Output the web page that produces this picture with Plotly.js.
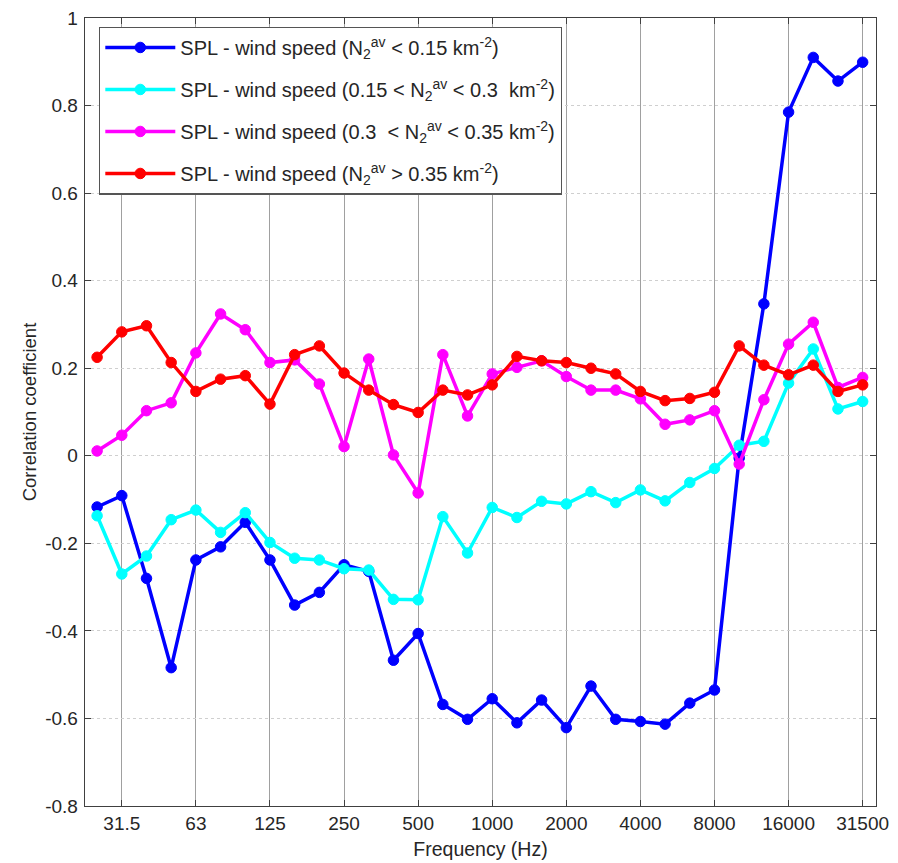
<!DOCTYPE html>
<html>
<head>
<meta charset="utf-8">
<script src="https://cdn.plot.ly/plotly-3.0.1.min.js"></script>
<style>html,body{margin:0;padding:0;background:#fff;}#chart{width:898px;height:863px;}</style>
</head>
<body>
<div id="chart"></div>
<script>
// Third-octave band centre frequencies (Hz)
var bands = ['25','31.5','40','50','63','80','100','125','160','200','250','315','400','500','630','800',
             '1000','1250','1600','2000','2500','3150','4000','5000','6300','8000','10000','12500','16000','20000','25000','31500'];
var tickLabels = ['31.5','63','125','250','500','1000','2000','4000','8000','16000','31500'];
var yTickVals = [-0.8,-0.6,-0.4,-0.2,0,0.2,0.4,0.6,0.8,1];
var yTickLabels = ['-0.8','-0.6','-0.4','-0.2','0','0.2','0.4','0.6','0.8','1'];

var seriesNames = [
  'SPL - wind speed (N<sub>2</sub><sup>av</sup> &lt; 0.15 km<sup>-2</sup>)',
  'SPL - wind speed (0.15 &lt; N<sub>2</sub><sup>av</sup> &lt; 0.3  km<sup>-2</sup>)',
  'SPL - wind speed (0.3  &lt; N<sub>2</sub><sup>av</sup> &lt; 0.35 km<sup>-2</sup>)',
  'SPL - wind speed (N<sub>2</sub><sup>av</sup> &gt; 0.35 km<sup>-2</sup>)'
];

var blue = [-0.117,-0.091,-0.280,-0.484,-0.238,-0.208,-0.152,-0.238,-0.341,-0.312,-0.249,-0.264,
            -0.467,-0.406,-0.568,-0.602,-0.555,-0.610,-0.558,-0.621,-0.526,-0.602,-0.607,-0.613,
            -0.565,-0.535,-0.005,0.347,0.785,0.910,0.856,0.899];
var cyan = [-0.137,-0.270,-0.229,-0.146,-0.124,-0.175,-0.130,-0.198,-0.234,-0.238,-0.258,-0.261,
            -0.328,-0.329,-0.139,-0.222,-0.118,-0.141,-0.104,-0.110,-0.082,-0.107,-0.078,-0.103,
            -0.061,-0.029,0.024,0.033,0.166,0.244,0.107,0.124];
var magenta = [0.011,0.047,0.103,0.121,0.235,0.324,0.288,0.213,0.219,0.164,0.021,0.221,
               0.002,-0.085,0.231,0.091,0.187,0.202,0.217,0.181,0.150,0.150,0.130,0.072,
               0.082,0.103,-0.019,0.128,0.255,0.305,0.156,0.179];
var red = [0.225,0.283,0.297,0.213,0.147,0.175,0.183,0.118,0.231,0.251,0.189,0.150,
           0.117,0.099,0.150,0.139,0.162,0.227,0.217,0.213,0.200,0.187,0.147,0.126,
           0.131,0.145,0.251,0.207,0.185,0.207,0.147,0.162];

var colors = ['#0000ff','#00ffff','#ff00ff','#ff0000'];
var allSeries = [blue, cyan, magenta, red];

var xIdx = bands.map(function(_, i){ return i; });
var tickVals = tickLabels.map(function(l){ return bands.indexOf(l); });

var traces = allSeries.map(function(vals, k){
  return {
    x: xIdx, y: vals, name: seriesNames[k], type: 'scatter', mode: 'lines+markers',
    legendgroup: 'g' + k,
    line: {color: colors[k], width: 3.5},
    marker: {color: colors[k], size: 10.5, symbol: 'circle', line: {color: colors[k], width: 1}}
  };
});

var font = 'Arial, "Liberation Sans", sans-serif';
var layout = {
  width: 898, height: 863,
  margin: {l: 85, r: 22, t: 18, b: 57, pad: 0},
  paper_bgcolor: '#ffffff', plot_bgcolor: '#ffffff',
  font: {family: font, size: 19, color: '#262626'},
  showlegend: true,
  legend: {
    x: 0.0177, y: 0.989, xanchor: 'left', yanchor: 'top',
    bgcolor: '#ffffff', bordercolor: '#555555', borderwidth: 1.3,
    font: {family: font, size: 20, color: '#262626'},
    itemwidth: 70, tracegroupgap: 13
  },
  xaxis: {
    range: [-0.49, 31.54], tickmode: 'array', tickvals: tickVals, ticktext: tickLabels,
    showgrid: true, gridcolor: '#a0a0a0', gridwidth: 1,
    zeroline: false, showline: true, linecolor: '#404040', linewidth: 1.3, mirror: 'ticks',
    ticks: 'inside', ticklen: 6, tickcolor: '#404040',
    tickfont: {family: font, size: 19, color: '#262626'},
    title: {text: 'Frequency (Hz)', font: {family: font, size: 19.5, color: '#262626'}, standoff: 9}
  },
  yaxis: {
    range: [-0.8, 1], tickmode: 'array', tickvals: yTickVals, ticktext: yTickLabels,
    showgrid: true, gridcolor: '#cfcfcf', gridwidth: 1, griddash: 'dot',
    zeroline: false, showline: true, linecolor: '#404040', linewidth: 1.3, mirror: 'ticks',
    ticks: 'inside', ticklen: 6, tickcolor: '#404040', ticklabelstandoff: 2,
    tickfont: {family: font, size: 19, color: '#262626'},
    title: {text: 'Correlation coefficient', font: {family: font, size: 18.5, color: '#262626'}, standoff: 3}
  }
};

Plotly.newPlot('chart', traces, layout, {staticPlot: true, displayModeBar: false});
</script>
</body>
</html>
